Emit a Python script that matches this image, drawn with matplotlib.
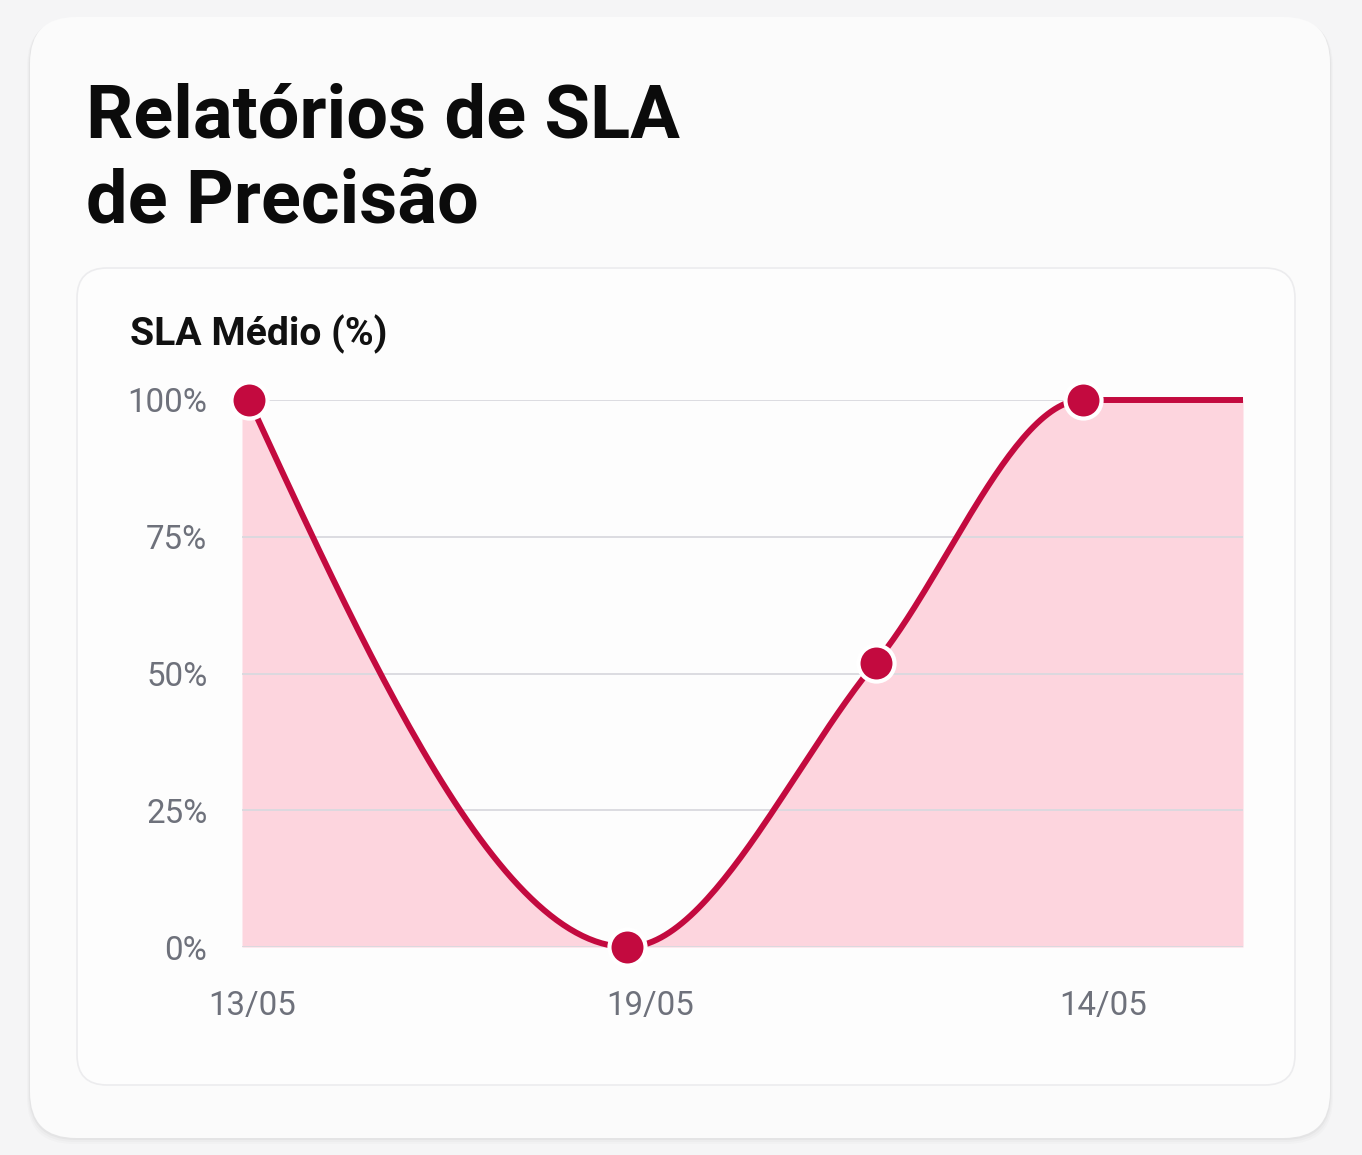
import numpy as np
import matplotlib
matplotlib.use("Agg")
import matplotlib.pyplot as plt
from matplotlib.patches import FancyBboxPatch
from matplotlib.transforms import IdentityTransform

# data
x_vals = [0.7, 38.5, 63.3, 84.0, 100.0]
sla_vals = [100, 0, 52, 100, 100]
show_marker = [True, True, True, True, False]
x_tick_pos = [1.0, 40.8, 86.0]
x_tick_labels = ["13/05", "19/05", "14/05"]
y_ticks = [0, 25, 50, 75, 100]
y_tick_labels = ["0%", "25%", "50%", "75%", "100%"]

title = "Relatórios de SLA\nde Precisão"
subtitle = "SLA Médio (%)"

line_color = "#c30a3f"
fill_color = "#fdd5de"
grid_color = "#d9d9de"
tick_color = "#6e717b"

W, H = 1362, 1155


def monotone(x, y, n=60):
    # monotone cubic (d3 curveMonotoneX style)
    x = np.asarray(x, float)
    y = np.asarray(y, float)
    h = np.diff(x)
    s = np.diff(y) / h
    m = np.zeros(len(x))
    for i in range(1, len(x) - 1):
        if s[i - 1] * s[i] <= 0:
            m[i] = 0
        else:
            p = (s[i - 1] * h[i] + s[i] * h[i - 1]) / (h[i - 1] + h[i])
            m[i] = np.sign(s[i - 1]) * min(abs(s[i - 1]), abs(s[i]), 0.5 * abs(p)) * 2
    m[0] = (3 * s[0] - m[1]) / 2 if len(x) > 2 else s[0]
    m[-1] = (3 * s[-1] - m[-2]) / 2 if len(x) > 2 else s[-1]
    m[0] = np.sign(m[0]) * min(abs(m[0]), 3 * abs(s[0])) if s[0] != 0 else 0
    m[-1] = np.sign(m[-1]) * min(abs(m[-1]), 3 * abs(s[-1])) if s[-1] != 0 else 0
    xs, ys = [], []
    for i in range(len(x) - 1):
        t = np.linspace(0, 1, n)
        h00 = 2 * t**3 - 3 * t**2 + 1
        h10 = t**3 - 2 * t**2 + t
        h01 = -2 * t**3 + 3 * t**2
        h11 = t**3 - t**2
        xs.append(x[i] + t * h[i])
        ys.append(h00 * y[i] + h10 * h[i] * m[i] + h01 * y[i + 1] + h11 * h[i] * m[i + 1])
    return np.concatenate(xs), np.concatenate(ys)


plt.rcParams['font.family'] = ['Roboto', 'DejaVu Sans']

fig = plt.figure(figsize=(W / 100, H / 100), dpi=100)
fig.patch.set_facecolor("#f5f5f6")


def card(x0, y0, x1, y1, r, fc, ec, lw=1.0, z=0, alpha=1.0):
    p = FancyBboxPatch((x0 + r, H - y1 + r), (x1 - x0) - 2 * r, (y1 - y0) - 2 * r,
                       boxstyle="round,pad=%f" % r, transform=IdentityTransform(),
                       fc=fc, ec=ec, lw=lw, zorder=z, alpha=alpha)
    fig.patches.append(p)


# outer card with soft shadow
for k, a in [(6, 0.015), (4, 0.02), (2, 0.03)]:
    card(30 - k / 2, 17 + k / 2, 1330 + k / 2, 1138 + k, 46, "#000000", "none", z=-3, alpha=a)
card(30, 17, 1330, 1138, 46, "#fbfbfb", "none", z=-2)
# inner card
card(77, 268, 1295, 1085, 30, "#fdfdfd", "#ececee", lw=1.2, z=-1)

# two title lines placed by baseline
title_lines = title.split("\n")
fig.text(86 / W, 1 - 137 / H, title_lines[0], fontsize=53.3, fontweight="bold", color="#0b0b0b",
         ha="left", va="baseline")
fig.text(86 / W, 1 - 222 / H, title_lines[1], fontsize=53.3, fontweight="bold", color="#0b0b0b",
         ha="left", va="baseline")
fig.text(130 / W, 1 - 345 / H, subtitle, fontsize=28.2, fontweight="bold", color="#111111",
         ha="left", va="baseline")

ax = fig.add_axes([242 / W, (H - 947) / H, (1243 - 242) / W, (947 - 400) / H])
ax.set_facecolor("none")
ax.set_xlim(0, 100)
ax.set_ylim(0, 100)

cx, cy = monotone(x_vals, sla_vals)
cx = np.concatenate([[0], cx])
cy = np.concatenate([[sla_vals[0]], cy])
ax.fill_between(cx, 0, cy, color=fill_color, lw=0, zorder=1)
for yt in y_ticks:
    ax.axhline(yt, color=grid_color, lw=1.3, zorder=2)
ax.plot(cx[1:], cy[1:], color=line_color, lw=4.3, zorder=3, solid_capstyle="butt", clip_on=False)
mx = [xv for xv, s in zip(x_vals, show_marker) if s]
my = [yv for yv, s in zip(sla_vals, show_marker) if s]
ax.plot(mx, my, "o", ms=26, mfc=line_color, mec="white", mew=3, zorder=4, clip_on=False, ls="none")

for s in ax.spines.values():
    s.set_visible(False)
ax.set_yticks(y_ticks)
ax.set_yticklabels(y_tick_labels)
ax.set_xticks(x_tick_pos)
ax.set_xticklabels(x_tick_labels)
ax.tick_params(axis="y", length=0, pad=25, labelsize=23.8, labelcolor=tick_color)
ax.tick_params(axis="x", length=0, pad=31, labelsize=23.8, labelcolor=tick_color)

fig.savefig("out.png", dpi=100, facecolor=fig.get_facecolor())
